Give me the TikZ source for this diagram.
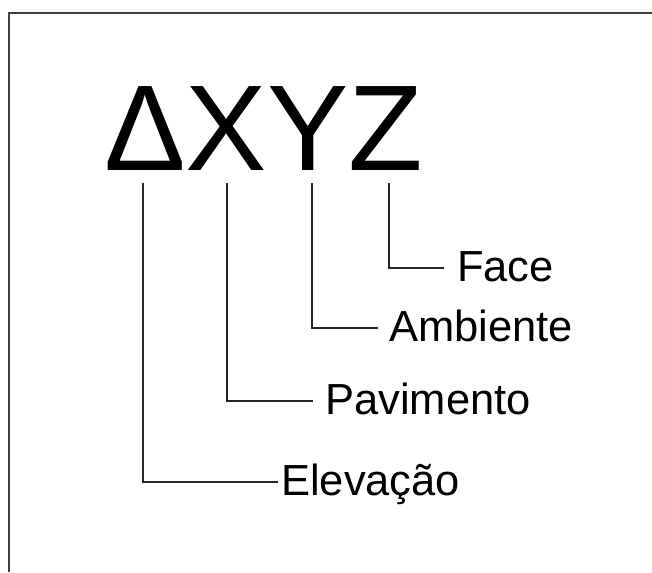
\documentclass[tikz,border=0pt]{standalone}
\usepackage{fontspec}
\setmainfont{Liberation Sans}
\begin{document}
\begin{tikzpicture}[x=1pt,y=-1pt,
  frame/.style={draw=black!75,line width=2.6pt},
  leader/.style={draw=black!85,line width=1.6pt},
  label/.style={anchor=west,inner ysep=0pt,text height=26pt,text depth=0pt,
    font=\fontsize{43.5}{43.5}\selectfont}]
\useasboundingbox (0,0) rectangle (652,572);
\draw[frame] (9,572) -- (9,13) -- (652,13);
\node[anchor=base west,inner sep=0pt,font=\fontsize{122}{122}\selectfont] (title) at (104,170) {ΔXYZ};
\coordinate (td) at (143,183);
\coordinate (tx) at (227,183);
\coordinate (ty) at (312,183);
\coordinate (tz) at (389,183);
\node[label,inner xsep=13pt] (face) at (444,268) {Face};
\node[label,inner xsep=11pt] (amb) at (378,328) {Ambiente};
\node[label,inner xsep=12pt] (pav) at (313,401) {Pavimento};
\node[label,inner xsep=3pt] (elev) at (278,482) {Elevação};
\draw[leader] (tz) |- (face.west);
\draw[leader] (ty) |- (amb.west);
\draw[leader] (tx) |- (pav.west);
\draw[leader] (td) |- (elev.west);
\end{tikzpicture}
\end{document}
